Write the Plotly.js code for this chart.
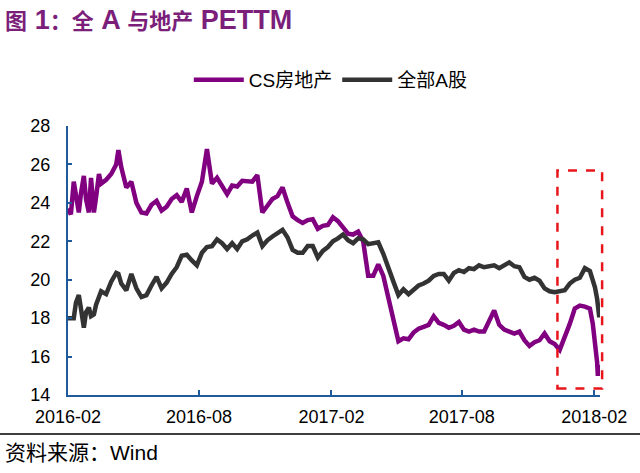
<!DOCTYPE html>
<html>
<head>
<meta charset="utf-8">
<script src="https://cdn.plot.ly/plotly-3.0.1.min.js"></script>
<style>
  html, body { margin: 0; padding: 0; background: #ffffff; }
  #chart { width: 640px; height: 473px; }
</style>
</head>
<body>
<div id="chart"></div>
<script>
// ---- Data ----
const dates = [
  '2016-02-01','2016-02-05','2016-02-09','2016-02-12','2016-02-16','2016-02-19','2016-02-23','2016-02-26','2016-03-01','2016-03-04','2016-03-08','2016-03-11','2016-03-15',
  '2016-03-18','2016-03-25','2016-04-01','2016-04-08','2016-04-11','2016-04-15','2016-04-22','2016-04-29','2016-05-06','2016-05-13','2016-05-20','2016-05-27',
  '2016-06-03','2016-06-10','2016-06-17','2016-06-24','2016-07-01','2016-07-08','2016-07-15','2016-07-22','2016-07-29','2016-08-05','2016-08-12','2016-08-19','2016-08-26',
  '2016-09-02','2016-09-09','2016-09-16','2016-09-23','2016-09-30','2016-10-07','2016-10-14','2016-10-21','2016-10-28','2016-11-04','2016-11-11','2016-11-18','2016-11-25',
  '2016-12-02','2016-12-09','2016-12-16','2016-12-23','2016-12-30',
  '2017-01-06','2017-01-13','2017-01-20','2017-01-27','2017-02-03','2017-02-10','2017-02-17','2017-02-24','2017-03-03','2017-03-10','2017-03-17','2017-03-24','2017-03-31',
  '2017-04-07','2017-04-14','2017-04-21','2017-04-28','2017-05-05','2017-05-12','2017-05-19','2017-05-26','2017-06-02','2017-06-09','2017-06-16','2017-06-23','2017-06-30',
  '2017-07-07','2017-07-14','2017-07-21','2017-07-28','2017-08-04','2017-08-11','2017-08-18','2017-08-25','2017-09-01','2017-09-08','2017-09-15','2017-09-22','2017-09-29',
  '2017-10-06','2017-10-13','2017-10-20','2017-10-27','2017-11-03','2017-11-10','2017-11-17','2017-11-24','2017-12-01','2017-12-08','2017-12-15','2017-12-22','2017-12-29',
  '2018-01-05','2018-01-12','2018-01-19','2018-01-26','2018-01-30','2018-02-02','2018-02-05','2018-02-06','2018-02-08','2018-02-09'
];

const csRealEstate = [
  23.7, 23.4, 25.1, 24.3, 23.5, 24.5, 25.4, 24.2, 23.5, 25.3, 23.5, 24.3, 25.5,
  25.0, 25.2, 25.5, 26.0, 26.75, 25.85, 24.8, 25.1, 24.0, 23.5, 23.45, 23.9,
  24.1, 23.6, 23.8, 24.2, 24.4, 24.05, 24.75, 23.5, 24.35, 25.1, 26.8, 25.0, 25.3,
  24.9, 24.45, 24.9, 24.85, 25.15, 25.1, 25.1, 25.45, 23.5, 23.85, 24.2, 24.35, 24.8,
  24.0, 23.3, 23.1, 22.95, 23.1,
  23.15, 22.65, 22.8, 22.85, 23.25, 23.05, 22.75, 22.4, 22.35, 22.5, 22.0, 20.2, 20.2,
  20.8, 20.2, 19.0, 18.0, 16.8, 16.95, 16.9, 17.25, 17.45, 17.55, 17.65, 18.1, 17.75,
  17.65, 17.5, 17.6, 17.8, 17.4, 17.3, 17.4, 17.3, 17.3, 17.9, 18.4, 17.65, 17.4,
  17.3, 17.2, 17.3, 16.85, 16.55, 16.75, 16.85, 17.2, 16.8, 16.65, 16.35, 17.0, 17.7,
  18.5, 18.65, 18.6, 18.5, 17.7, 16.9, 15.7, 15.0, 15.55, 15.3
];

const allAShares = [
  18.0, 18.0, 18.0, 18.8, 19.2, 18.5, 17.5, 18.3, 18.55, 18.1, 18.2, 18.7, 19.1,
  19.4, 19.25, 19.9, 20.35, 20.3, 19.8, 19.45, 20.3, 19.55, 19.1, 19.2, 19.7,
  20.15, 19.55, 19.85, 20.3, 20.65, 21.25, 21.3, 21.0, 20.75, 21.4, 21.7, 21.75, 22.1,
  21.9, 21.6, 21.9, 21.6, 22.0, 22.1, 22.3, 22.45, 21.75, 22.05, 22.25, 22.45, 22.6,
  22.2, 21.55, 21.4, 21.4, 21.75,
  21.75, 21.15, 21.5, 21.7, 22.0, 22.15, 22.35, 22.05, 21.9, 22.15, 22.1, 21.85, 21.9,
  21.95, 21.35, 20.55, 19.9, 19.2, 19.5, 19.25, 19.45, 19.7, 19.8, 19.95, 20.2, 20.3,
  20.3, 19.95, 20.35, 20.5, 20.4, 20.6, 20.55, 20.75, 20.65, 20.7, 20.75, 20.6, 20.75,
  20.9, 20.7, 20.65, 20.15, 20.0, 20.1, 19.95, 19.55, 19.4, 19.35, 19.4, 19.45, 19.8,
  20.0, 20.1, 20.6, 20.45, 20.05, 19.6, 19.0, 18.6, 18.05, 18.35
];

const seriesNames = ['CS房地产', '全部A股'];
const seriesColors = ['#800080', '#333333'];
const xTickVals = ['2016-02-01', '2016-08-01', '2017-02-01', '2017-08-01', '2018-02-01'];
const xTickText = ['2016-02', '2016-08', '2017-02', '2017-08', '2018-02'];
const yTickVals = [14, 16, 18, 20, 22, 24, 26, 28];
const L = (s) => '<span style="font-size:27px">' + s + '</span>';
const titleText = '图' + L(' 1') + '：全' + L(' A ') + '与地产' + L(' PETTM');
const sourceText = '资料来源：Wind';

if (csRealEstate.length !== dates.length || allAShares.length !== dates.length) {
  throw new Error('length mismatch: dates ' + dates.length + ' cs ' + csRealEstate.length + ' all ' + allAShares.length);
}

const FONT = 'Arial, "Liberation Sans", "Noto Sans CJK SC", sans-serif';
const AXIS_COLOR = '#1f5b9b';

const traces = [
  { x: dates, y: csRealEstate, name: seriesNames[0], type: 'scatter', mode: 'lines',
    line: { color: seriesColors[0], width: 4.5 } },
  { x: dates, y: allAShares, name: seriesNames[1], type: 'scatter', mode: 'lines',
    line: { color: seriesColors[1], width: 4.5 } }
];

const layout = {
  width: 640, height: 473,
  margin: { l: 68, r: 40, t: 126, b: 78 },
  paper_bgcolor: '#ffffff', plot_bgcolor: '#ffffff',
  font: { family: FONT, color: '#000000', size: 18 },
  title: {
    text: titleText,
    font: { family: FONT, size: 22, color: '#7b1f7b', weight: 'bold' },
    x: 0.008, xanchor: 'left', xref: 'container',
    y: 0.955, yanchor: 'middle', yref: 'container'
  },
  showlegend: true,
  legend: {
    orientation: 'h', x: 0.494, xanchor: 'center', y: 1.171, yanchor: 'middle',
    font: { family: FONT, size: 19, color: '#000000' },
    bgcolor: 'rgba(0,0,0,0)', itemwidth: 50, tracegroupgap: 0
  },
  xaxis: {
    type: 'date', range: ['2016-02-01', '2018-02-09'],
    tickvals: xTickVals, ticktext: xTickText,
    showline: true, linecolor: AXIS_COLOR, linewidth: 2,
    ticks: 'inside', ticklen: 5, tickwidth: 2, tickcolor: AXIS_COLOR,
    showgrid: false, zeroline: false,
    tickfont: { family: FONT, size: 18, color: '#000000' },
    ticklabelstandoff: 4
  },
  yaxis: {
    range: [14, 28], tickvals: yTickVals,
    showline: true, linecolor: AXIS_COLOR, linewidth: 2,
    ticks: 'inside', ticklen: 4, tickwidth: 2, tickcolor: AXIS_COLOR,
    showgrid: false, zeroline: false,
    tickfont: { family: FONT, size: 18, color: '#000000' },
    ticklabelstandoff: 12
  },
  shapes: [
    { type: 'rect', xref: 'paper', yref: 'paper', x0: 0.920, x1: 1.004, y0: 0.024, y1: 0.835,
      line: { color: '#e8161b', width: 2.5, dash: 'dash' }, fillcolor: 'rgba(0,0,0,0)', layer: 'above' },
    { type: 'line', xref: 'paper', yref: 'paper', x0: -0.1284, x1: 1.0758, y0: -0.145, y1: -0.145,
      line: { color: '#000000', width: 1.5 } }
  ],
  annotations: [
    { text: sourceText, xref: 'paper', yref: 'paper', x: -0.123, xanchor: 'left',
      y: -0.2156, yanchor: 'middle', showarrow: false,
      font: { family: FONT, size: 21, color: '#000000' } }
  ]
};

Plotly.newPlot('chart', traces, layout, { displayModeBar: false, staticPlot: true });
</script>
</body>
</html>
